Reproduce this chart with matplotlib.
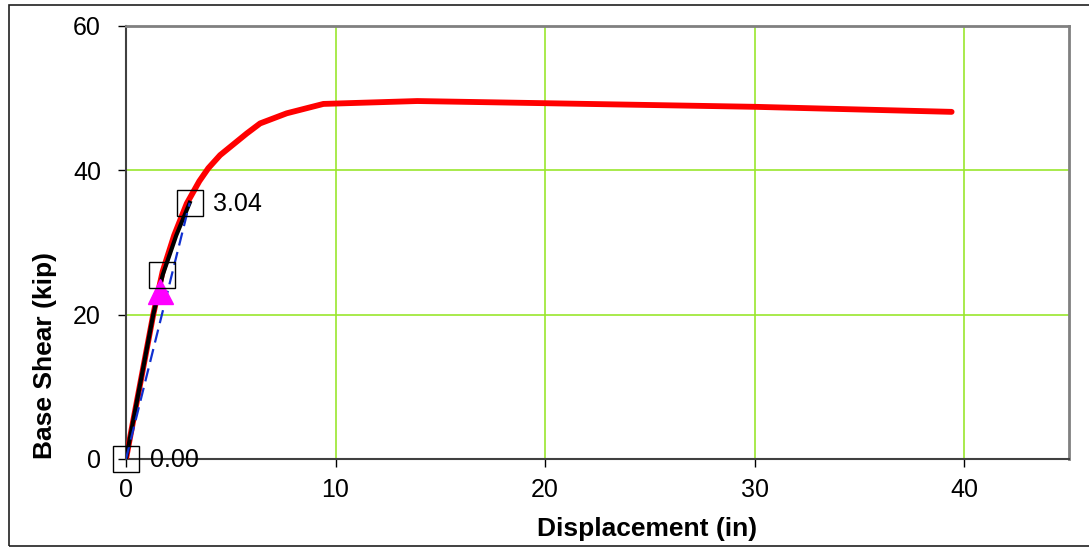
import numpy as np
import matplotlib.pyplot as plt
from matplotlib.patches import Rectangle

plt.rcParams['font.family'] = ['Liberation Sans', 'DejaVu Sans']

# pushover curve
disp = [0, 1.3, 1.75, 2.3, 2.9, 3.5, 3.93, 4.49, 5.76, 6.4, 7.67, 9.42, 13.9, 20.0, 30.0, 39.4]
shear = [0, 20, 26, 31, 35.4, 38.5, 40.3, 42.1, 45.1, 46.5, 47.9, 49.2, 49.6, 49.3, 48.8, 48.1]

# fitted portion up to the yield point
fit_disp = [0, 1.3, 1.75, 2.4, 3.04]
fit_shear = [0, 20, 25.5, 31, 35.5]

# idealised bilinear segment
bil_disp = [0, 3.04]
bil_shear = [0, 35.5]

# marked points
box_disp = [0, 1.73, 3.04]
box_shear = [0, 25.5, 35.5]
tri_disp = [1.62]
tri_shear = [23.3]
labels = [(0, 0, '0.00'), (3.04, 35.5, '3.04')]

fig = plt.figure(figsize=(10.89, 5.47), dpi=100)
ax = fig.add_axes([0.1157, 0.1609, 0.8659, 0.7916])

ax.plot(disp, shear, color='red', lw=4.2, solid_capstyle='round', zorder=3)
ax.plot(fit_disp, fit_shear, color='black', lw=3, zorder=4)
ax.plot(bil_disp, bil_shear, color='#1030d0', lw=1.6, ls=(0, (6, 3)), zorder=5)
ax.plot(tri_disp, tri_shear, ls='none', marker='^', ms=18, color='magenta', zorder=6)
ax.plot(box_disp, box_shear, ls='none', marker='s', ms=19, mfc='none', mec='black',
        mew=1, zorder=7, clip_on=False)
for x, y, t in labels:
    ax.annotate(t, (x, y), xytext=(17, -1), textcoords='offset points',
                va='center', ha='left', fontsize=18)

ax.set_xlim(0, 45)
ax.set_ylim(0, 60)
ax.set_xticks([0, 10, 20, 30, 40])
ax.set_yticks([0, 20, 40, 60])
ax.tick_params(direction='out', length=6, width=1, labelsize=18)
ax.tick_params(axis='y', pad=12)
ax.tick_params(axis='x', pad=8)
ax.grid(True, color='#99e62e', lw=1.2)
ax.set_axisbelow(True)

for s in ['top', 'right']:
    ax.spines[s].set_color('#808080')
    ax.spines[s].set_linewidth(2)
for s in ['left', 'bottom']:
    ax.spines[s].set_color('#404040')
    ax.spines[s].set_linewidth(1.5)

ax.set_xlabel('Displacement (in)', fontsize=19, fontweight='bold')
ax.set_ylabel('Base Shear (kip)', fontsize=19, fontweight='bold')
ax.xaxis.set_label_coords(0.553, -0.133)
ax.yaxis.set_label_coords(-0.073, 0.238)

# outer chart border
fig.patches.append(Rectangle((9 / 1089, 1 / 547), 1.2, 541 / 547, transform=fig.transFigure,
                             fill=False, ec='#202020', lw=1.2))

fig.savefig('out.png', dpi=100)
